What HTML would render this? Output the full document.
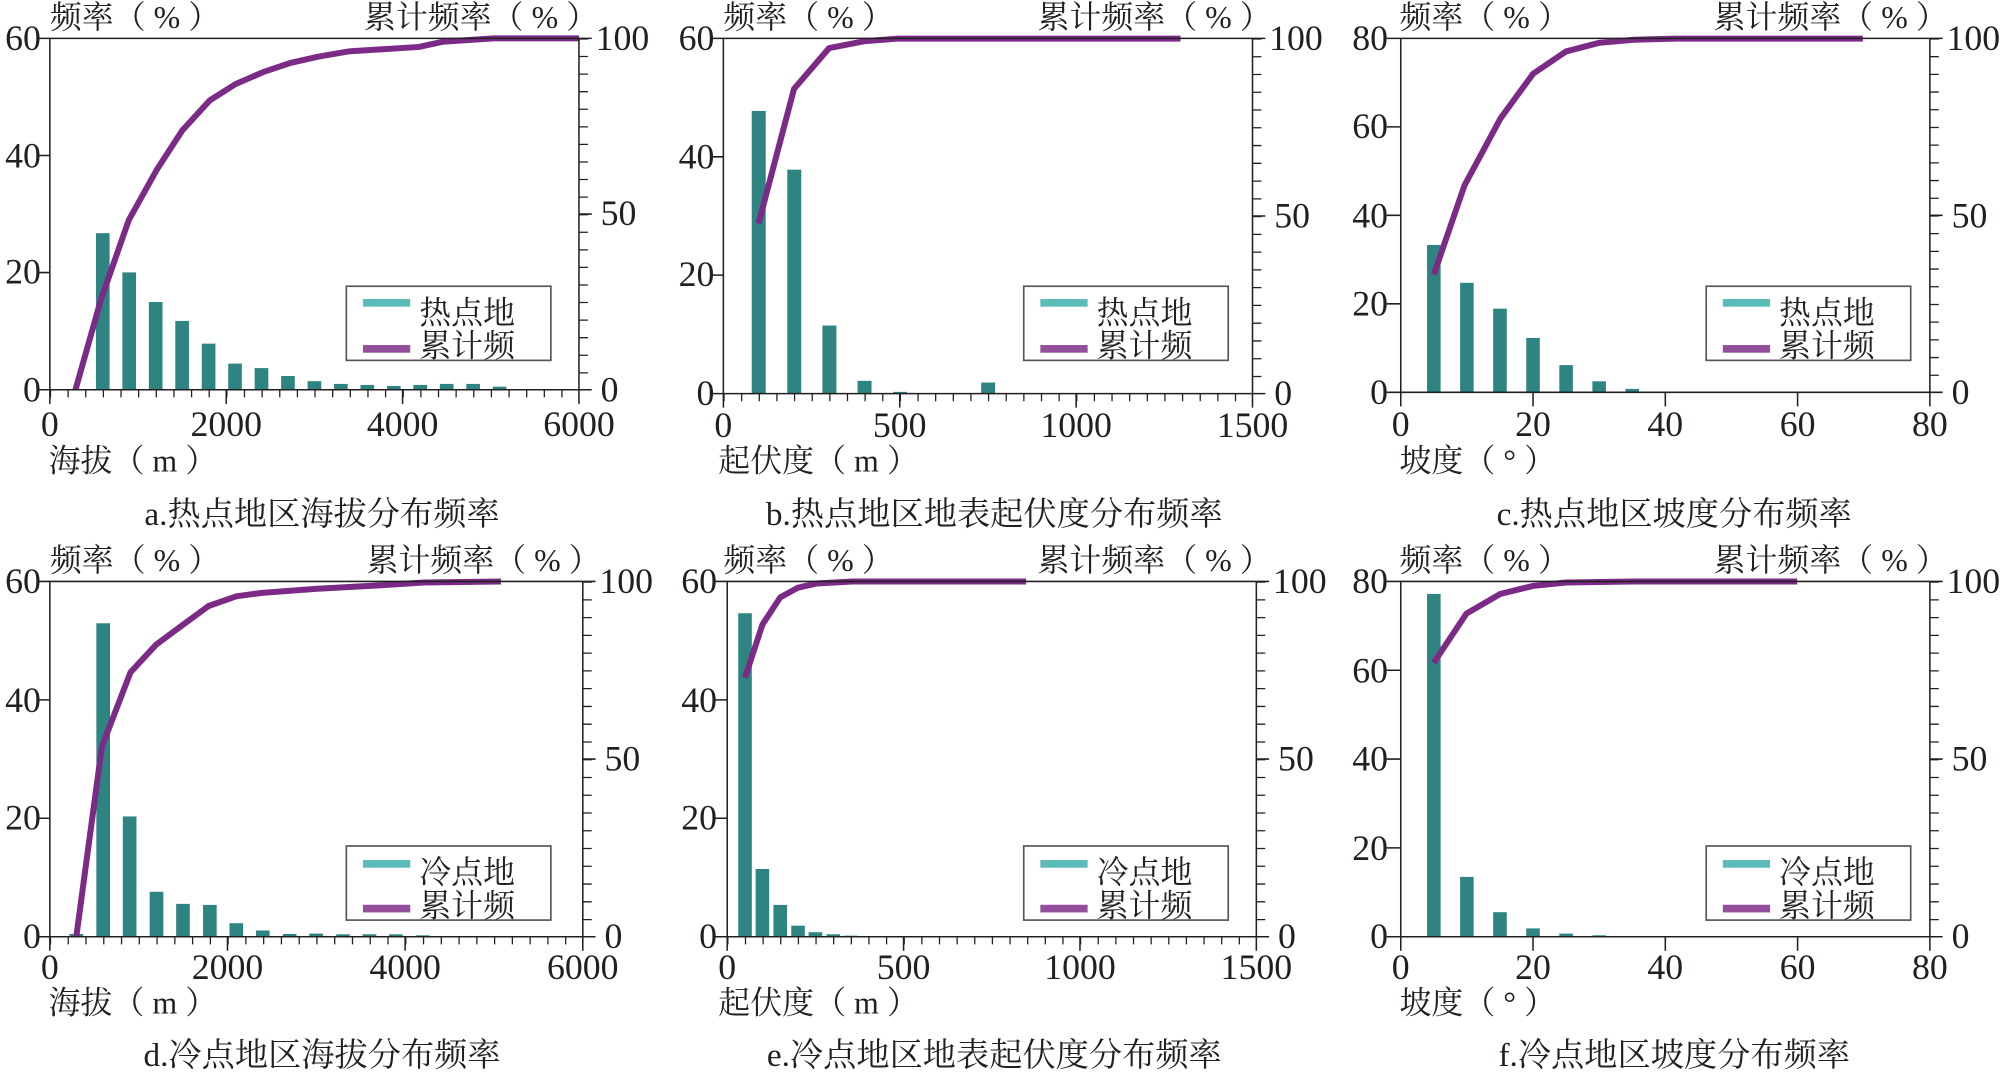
<!DOCTYPE html>
<html><head><meta charset="utf-8"><style>
html,body{margin:0;padding:0;background:#fff;}
svg{display:block}
text{font-family:"Liberation Serif","Noto Serif CJK SC",serif;fill:#231f20}
.n{font-size:28px}
.c{font-size:25px}
.cap{font-size:26px}
.ax{stroke:#231f20;stroke-width:1.2;fill:none}
.bar{fill:#2e8480}
.cum{fill:none;stroke:#7b2b86;stroke-width:6;stroke-linejoin:round;vector-effect:non-scaling-stroke}
.lg{fill:#fff;stroke:#555;stroke-width:1.3}
</style></head><body>
<svg width="2004" height="1076" viewBox="0 0 1568 842" preserveAspectRatio="none" xmlns="http://www.w3.org/2000/svg">
<rect width="1568" height="842" fill="#fff"/>

<!-- Panel a -->
<g>
<g transform="matrix(0.33387,0,0,0.26935,-1.06,-0.17)">
<g class="bar">
<rect x="228" y="678" width="32" height="455"/><rect x="290" y="792" width="32" height="341"/><rect x="352" y="878" width="32" height="255"/><rect x="414" y="933" width="32" height="200"/><rect x="476" y="999" width="32" height="134"/><rect x="538" y="1057" width="32" height="76"/><rect x="600" y="1070" width="32" height="63"/><rect x="662" y="1093" width="32" height="40"/><rect x="724" y="1108" width="32" height="25"/><rect x="786" y="1116" width="32" height="17"/><rect x="848" y="1119" width="32" height="14"/><rect x="910" y="1122" width="32" height="11"/><rect x="972" y="1119" width="32" height="14"/><rect x="1034" y="1116" width="32" height="17"/><rect x="1096" y="1116" width="32" height="17"/><rect x="1158" y="1124" width="32" height="9"/>
</g>
<polyline class="cum" points="180,1133 240,870 305,640 370,495 430,380 495,292 555,245 620,210 685,183 750,165 820,150 985,137 1040,122 1160,112 1360,112"/>
</g>
<path class="ax" d="M29,30H463M29,305H463M39,30V316M453,30V316M29,121.7H39M29,213.3H39M453,167.5H463M177,305V316M315,305V316"/>
<line x1="39" y1="308" x2="453" y2="308" stroke="#231f20" stroke-width="6" stroke-dasharray="1 12.8"/>
<line x1="456.5" y1="30" x2="456.5" y2="305" stroke="#231f20" stroke-width="7" stroke-dasharray="1 12.75"/>
<text class="c" x="39" y="22">频率（ % ）</text>
<text class="c" x="468" y="22" text-anchor="end">累计频率（ % ）</text>
<g class="n" text-anchor="end"><text x="32" y="39">60</text><text x="32" y="131">40</text><text x="32" y="222">20</text><text x="32" y="314">0</text></g>
<g class="n"><text x="466" y="39">100</text><text x="470" y="176">50</text><text x="470" y="314">0</text></g>
<g class="n" text-anchor="middle"><text x="39" y="341">0</text><text x="177" y="341">2000</text><text x="315" y="341">4000</text><text x="453" y="341">6000</text></g>
<text class="c" x="38" y="369">海拔（ m ）</text>
<text class="cap" x="252" y="411" text-anchor="middle">a.热点地区海拔分布频率</text>
<rect class="lg" x="271" y="224" width="160" height="58"/>
<rect x="284" y="234" width="37" height="6" fill="#5bbbb6"/><rect x="284" y="270" width="37" height="6" fill="#934f9c"/>
<text class="c" x="328" y="253">热点地</text><text class="c" x="328" y="279">累计频</text>
</g>

<!-- Panel b -->
<g>
<g transform="matrix(0.3312,0,0,0.27043,522.94,-0.29)">
<g class="bar">
<rect x="197" y="322" width="33" height="818"/><rect x="281" y="492" width="33" height="648"/><rect x="364" y="943" width="33" height="197"/><rect x="447" y="1103" width="33" height="37"/><rect x="531" y="1135" width="33" height="5"/><rect x="739" y="1108" width="33" height="32"/>
</g>
<polyline class="cum" points="213,648 297,258 380,140 465,120 540,113 1210,113"/>
</g>
<path class="ax" d="M556,30H990M556,308H990M566,30V319M980,30V319M556,122.7H566M556,215.3H566M980,169H990M704,308V319M842,308V319"/>
<line x1="566" y1="311" x2="980" y2="311" stroke="#231f20" stroke-width="6" stroke-dasharray="1 12.8"/>
<line x1="983.5" y1="30" x2="983.5" y2="308" stroke="#231f20" stroke-width="7" stroke-dasharray="1 12.9"/>
<text class="c" x="566" y="22">频率（ % ）</text>
<text class="c" x="995" y="22" text-anchor="end">累计频率（ % ）</text>
<g class="n" text-anchor="end"><text x="559" y="39">60</text><text x="559" y="132">40</text><text x="559" y="224">20</text><text x="559" y="317">0</text></g>
<g class="n"><text x="993" y="39">100</text><text x="997" y="178">50</text><text x="997" y="317">0</text></g>
<g class="n" text-anchor="middle"><text x="566" y="342">0</text><text x="704" y="342">500</text><text x="842" y="342">1000</text><text x="980" y="342">1500</text></g>
<text class="c" x="562" y="369">起伏度（ m ）</text>
<text class="cap" x="778" y="411" text-anchor="middle">b.热点地区地表起伏度分布频率</text>
<rect class="lg" x="801" y="224" width="160" height="58"/>
<rect x="814" y="234" width="37" height="6" fill="#5bbbb6"/><rect x="814" y="270" width="37" height="6" fill="#934f9c"/>
<text class="c" x="858" y="253">热点地</text><text class="c" x="858" y="279">累计频</text>
</g>

<!-- Panel c -->
<g>
<g transform="matrix(0.33173,0,0,0.26946,1046.24,-0.18)">
<g class="bar">
<rect x="212" y="712" width="32" height="428"/><rect x="290" y="822" width="32" height="318"/><rect x="368" y="897" width="32" height="243"/><rect x="446" y="982" width="32" height="158"/><rect x="524" y="1061" width="32" height="79"/><rect x="602" y="1108" width="32" height="32"/><rect x="680" y="1130" width="32" height="10"/>
</g>
<polyline class="cum" points="228,798 300,540 385,345 462,215 540,150 618,125 700,116 800,113 1240,113"/>
</g>
<path class="ax" d="M1085,30H1520M1085,307H1520M1096,30V318M1510,30V318M1085,99.25H1096M1085,168.5H1096M1085,237.75H1096M1510,168.5H1520M1199.5,307V318M1303,307V318M1406.5,307V318"/>
<line x1="1513.5" y1="30" x2="1513.5" y2="307" stroke="#231f20" stroke-width="7" stroke-dasharray="1 12.85"/>
<text class="c" x="1095" y="22">频率（ % ）</text>
<text class="c" x="1524" y="22" text-anchor="end">累计频率（ % ）</text>
<g class="n" text-anchor="end"><text x="1086" y="39">80</text><text x="1086" y="108">60</text><text x="1086" y="178">40</text><text x="1086" y="247">20</text><text x="1086" y="316">0</text></g>
<g class="n"><text x="1523" y="39">100</text><text x="1527" y="178">50</text><text x="1527" y="316">0</text></g>
<g class="n" text-anchor="middle"><text x="1096" y="341">0</text><text x="1199.5" y="341">20</text><text x="1303" y="341">40</text><text x="1406.5" y="341">60</text><text x="1510" y="341">80</text></g>
<text class="c" x="1095" y="369">坡度（ °  ）</text>
<text class="cap" x="1310" y="411" text-anchor="middle">c.热点地区坡度分布频率</text>
<rect class="lg" x="1335" y="224" width="160" height="58"/>
<rect x="1348" y="234" width="37" height="6" fill="#5bbbb6"/><rect x="1348" y="270" width="37" height="6" fill="#934f9c"/>
<text class="c" x="1392" y="253">热点地</text><text class="c" x="1392" y="279">累计频</text>
</g>

<!-- Panel d -->
<g>
<g transform="matrix(0.33387,0,0,0.27043,-2.07,417.95)">
<g class="bar">
<rect x="169" y="1157" width="32" height="8"/><rect x="232" y="258" width="32" height="907"/><rect x="294" y="817" width="32" height="348"/><rect x="357" y="1035" width="32" height="130"/><rect x="419" y="1070" width="32" height="95"/><rect x="482" y="1073" width="32" height="92"/><rect x="544" y="1126" width="32" height="39"/><rect x="606" y="1147" width="32" height="18"/><rect x="669" y="1157" width="32" height="8"/><rect x="731" y="1156" width="32" height="9"/><rect x="794" y="1158" width="32" height="7"/><rect x="856" y="1158" width="32" height="7"/><rect x="918" y="1158" width="32" height="7"/><rect x="981" y="1161" width="32" height="4"/>
</g>
<polyline class="cum" points="185,1165 245,615 312,400 372,320 432,265 495,208 560,180 620,170 750,158 900,148 1000,140 1180,137"/>
</g>
<path class="ax" d="M29,455H466M29,733H466M39,455V744M456,455V744M29,547.7H39M29,640.3H39M456,594H466M178,733V744M317,733V744"/>
<line x1="39" y1="736" x2="456" y2="736" stroke="#231f20" stroke-width="6" stroke-dasharray="1 12.9"/>
<line x1="459.5" y1="455" x2="459.5" y2="733" stroke="#231f20" stroke-width="7" stroke-dasharray="1 12.9"/>
<text class="c" x="39" y="447">频率（ % ）</text>
<text class="c" x="470" y="447" text-anchor="end">累计频率（ % ）</text>
<g class="n" text-anchor="end"><text x="32" y="464">60</text><text x="32" y="557">40</text><text x="32" y="649">20</text><text x="32" y="742">0</text></g>
<g class="n"><text x="469" y="464">100</text><text x="473" y="603">50</text><text x="473" y="742">0</text></g>
<g class="n" text-anchor="middle"><text x="39" y="766">0</text><text x="178" y="766">2000</text><text x="317" y="766">4000</text><text x="456" y="766">6000</text></g>
<text class="c" x="38" y="793">海拔（ m ）</text>
<text class="cap" x="252" y="834" text-anchor="middle">d.冷点地区海拔分布频率</text>
<rect class="lg" x="271" y="662" width="160" height="58"/>
<rect x="284" y="673" width="37" height="6" fill="#5bbbb6"/><rect x="284" y="708" width="37" height="6" fill="#934f9c"/>
<text class="c" x="328" y="691">冷点地</text><text class="c" x="328" y="717">累计频</text>
</g>

<!-- Panel e -->
<g>
<g transform="matrix(0.33173,0,0,0.27043,524.22,417.95)">
<g class="bar">
<rect x="161" y="229" width="32" height="936"/><rect x="202" y="969" width="32" height="196"/><rect x="244" y="1073" width="32" height="92"/><rect x="286" y="1133" width="32" height="32"/><rect x="327" y="1152" width="32" height="13"/><rect x="369" y="1158" width="32" height="7"/><rect x="410" y="1162" width="32" height="3"/>
</g>
<polyline class="cum" points="177,415 218,262 260,183 302,155 345,143 430,137 840,137"/>
</g>
<path class="ax" d="M559,455H993M559,733H993M569,455V744M983,455V744M559,547.7H569M559,640.3H569M983,594H993M707,733V744M845,733V744"/>
<line x1="569" y1="736" x2="983" y2="736" stroke="#231f20" stroke-width="6" stroke-dasharray="1 12.8"/>
<line x1="986.5" y1="455" x2="986.5" y2="733" stroke="#231f20" stroke-width="7" stroke-dasharray="1 12.9"/>
<text class="c" x="566" y="447">频率（ % ）</text>
<text class="c" x="995" y="447" text-anchor="end">累计频率（ % ）</text>
<g class="n" text-anchor="end"><text x="561" y="464">60</text><text x="561" y="557">40</text><text x="561" y="649">20</text><text x="561" y="742">0</text></g>
<g class="n"><text x="996" y="464">100</text><text x="1000" y="603">50</text><text x="1000" y="742">0</text></g>
<g class="n" text-anchor="middle"><text x="569" y="766">0</text><text x="707" y="766">500</text><text x="845" y="766">1000</text><text x="983" y="766">1500</text></g>
<text class="c" x="562" y="793">起伏度（ m ）</text>
<text class="cap" x="778" y="834" text-anchor="middle">e.冷点地区地表起伏度分布频率</text>
<rect class="lg" x="801" y="662" width="160" height="58"/>
<rect x="814" y="673" width="37" height="6" fill="#5bbbb6"/><rect x="814" y="708" width="37" height="6" fill="#934f9c"/>
<text class="c" x="858" y="691">冷点地</text><text class="c" x="858" y="717">累计频</text>
</g>

<!-- Panel f -->
<g>
<g transform="matrix(0.33173,0,0,0.27043,1046.24,417.95)">
<g class="bar">
<rect x="212" y="173" width="32" height="992"/><rect x="290" y="992" width="32" height="173"/><rect x="368" y="1094" width="32" height="71"/><rect x="446" y="1141" width="32" height="24"/><rect x="524" y="1156" width="32" height="9"/><rect x="602" y="1161" width="32" height="4"/>
</g>
<polyline class="cum" points="228,372 305,230 385,173 462,150 540,140 700,137 1085,137"/>
</g>
<path class="ax" d="M1085,455H1520M1085,733H1520M1096,455V744M1510,455V744M1085,524.5H1096M1085,594H1096M1085,663.5H1096M1510,594H1520M1199.5,733V744M1303,733V744M1406.5,733V744"/>
<line x1="1513.5" y1="455" x2="1513.5" y2="733" stroke="#231f20" stroke-width="7" stroke-dasharray="1 12.9"/>
<text class="c" x="1095" y="447">频率（ % ）</text>
<text class="c" x="1524" y="447" text-anchor="end">累计频率（ % ）</text>
<g class="n" text-anchor="end"><text x="1086" y="464">80</text><text x="1086" y="534">60</text><text x="1086" y="603">40</text><text x="1086" y="673">20</text><text x="1086" y="742">0</text></g>
<g class="n"><text x="1523" y="464">100</text><text x="1527" y="603">50</text><text x="1527" y="742">0</text></g>
<g class="n" text-anchor="middle"><text x="1096" y="766">0</text><text x="1199.5" y="766">20</text><text x="1303" y="766">40</text><text x="1406.5" y="766">60</text><text x="1510" y="766">80</text></g>
<text class="c" x="1095" y="793">坡度（ °  ）</text>
<text class="cap" x="1310" y="834" text-anchor="middle">f.冷点地区坡度分布频率</text>
<rect class="lg" x="1335" y="662" width="160" height="58"/>
<rect x="1348" y="673" width="37" height="6" fill="#5bbbb6"/><rect x="1348" y="708" width="37" height="6" fill="#934f9c"/>
<text class="c" x="1392" y="691">冷点地</text><text class="c" x="1392" y="717">累计频</text>
</g>
</svg>
</body></html>
